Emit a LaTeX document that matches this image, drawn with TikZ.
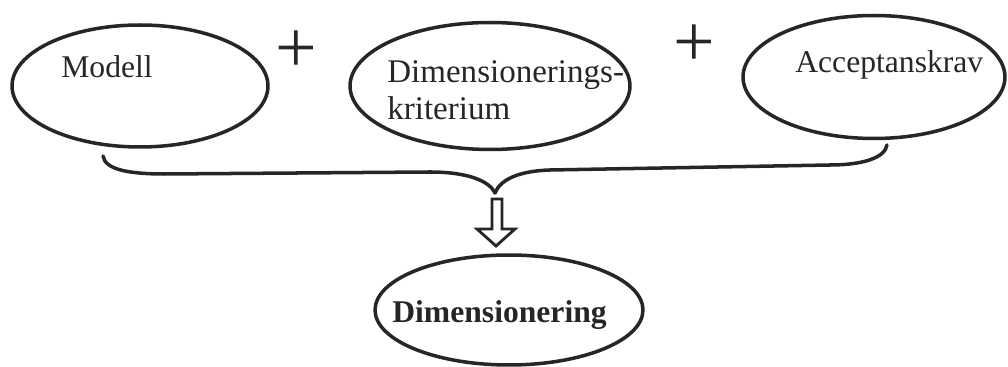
\documentclass[tikz,border=0pt]{standalone}
\usepackage{fontspec}
\setmainfont{Liberation Serif}
\usetikzlibrary{shapes.geometric}
\begin{document}
\begin{tikzpicture}[x=0.02cm,y=-0.02cm,
  oval/.style={draw=black!85, ellipse, line width=2pt, inner sep=0pt},
  lbl/.style={inner sep=0pt, anchor=base west, font=\fontsize{18}{20}\selectfont, text=black!85},
  plussign/.style={inner sep=0pt, font=\fontsize{42}{42}\selectfont, text=black!85},
  bracestyle/.style={draw=black!85, line width=2pt, line cap=round, line join=round}]
\useasboundingbox (0,0) rectangle (1008,367);
% ovals
\node[oval, minimum width=5.12cm, minimum height=2.44cm] (m1) at (140,86) {};
\node[oval, minimum width=5.6cm, minimum height=2.54cm] (m2) at (490,86) {};
\node[oval, minimum width=5.24cm, minimum height=2.46cm] (m3) at (874,77) {};
\node[oval, minimum width=5.36cm, minimum height=2.2cm] (res) at (509,310) {};
% texts
\node[lbl] (t1) at (61,78) {Modell};
\node[lbl, font=\fontsize{18.8}{20}\selectfont] (t2a) at (387,83) {Dimensionerings-};
\node[lbl, font=\fontsize{18.8}{20}\selectfont] (t2b) at (387,120) {kriterium};
\node[lbl] (t3) at (795,73) {Acceptanskrav};
\node[lbl, font=\fontsize{18}{20}\selectfont\bfseries] (tres) at (392,323) {Dimensionering};
% plus signs
\node[plussign] (p1) at (296,52) {+};
\node[plussign] (p2) at (694,46) {+};
% brace
\coordinate (bl) at (103,156);
\coordinate (tip) at (495,193);
\coordinate (br) at (887,145);
\path[bracestyle] (bl) .. controls (105,170) and (130,174) .. (165,174) -- (430,172)
  .. controls (470,172) and (490,182) .. (tip)
  .. controls (500,180) and (518,171) .. (550,170) -- (830,165)
  .. controls (862,165) and (885,158) .. (br);
% hollow arrow
\coordinate (atop) at (497,199);
\coordinate (atip) at (496,246);
\path[draw=black!85, line width=1.6pt, line join=miter] (492,199) -- (502,199) -- (502,229) -- (515,229) -- (atip) -- (477,229) -- (492,229) -- cycle;
\end{tikzpicture}
\end{document}
